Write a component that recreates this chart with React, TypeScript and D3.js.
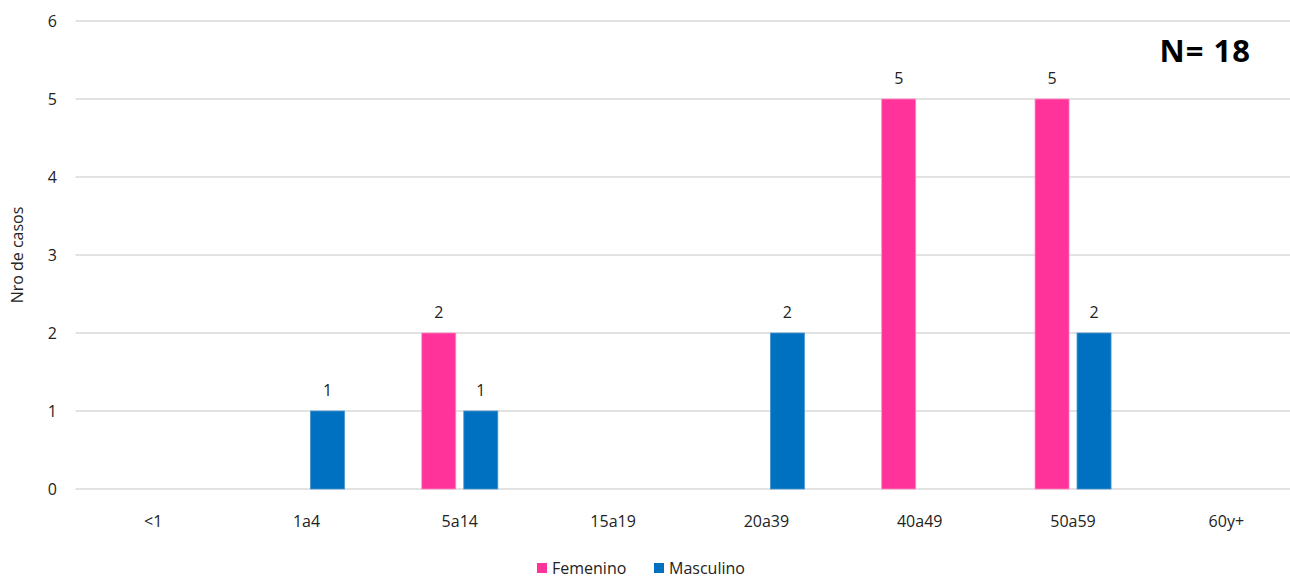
import { useEffect, useRef } from "react";
import * as d3 from "d3";

const categories = ["<1", "1a4", "5a14", "15a19", "20a39", "40a49", "50a59", "60y+"];
const femenino = [0, 0, 2, 0, 0, 5, 5, 0];
const masculino = [0, 1, 1, 0, 2, 0, 2, 0];
const seriesNames = ["Femenino", "Masculino"];
const colors = ["#FF3399", "#0070C0"];
const yTicks = [0, 1, 2, 3, 4, 5, 6];

const W = 1290,
  H = 578;
const margin = { top: 21, left: 76.5, bottom: 89 };
const plotRight = 1303;
const font = "'Open Sans', 'Noto Sans', sans-serif";

function App() {
  const svgRef = useRef(null);

  const buildSVG = () => {
    const svg = d3.select(svgRef.current);
    svg.selectAll("*").remove();

    const x = d3.scaleBand().domain(categories).range([margin.left, plotRight]);
    const x1 = d3
      .scaleBand()
      .domain(seriesNames)
      .range([0, x.bandwidth()])
      .paddingInner(0.19)
      .paddingOuter(0.92);
    const y = d3.scaleLinear().domain([0, 6]).range([H - margin.bottom, margin.top]);

    // gridlines
    svg
      .append("g")
      .selectAll("line")
      .data(yTicks)
      .enter()
      .append("line")
      .attr("x1", margin.left - 1)
      .attr("x2", W)
      .attr("y1", (d) => y(d))
      .attr("y2", (d) => y(d))
      .attr("stroke", "#d9d9d9")
      .attr("stroke-width", 1.3);

    // y tick labels
    svg
      .append("g")
      .selectAll("text")
      .data(yTicks)
      .enter()
      .append("text")
      .attr("x", 57)
      .attr("y", (d) => y(d))
      .attr("dy", "0.35em")
      .attr("text-anchor", "end")
      .attr("font-family", font)
      .attr("font-size", 16)
      .attr("fill", "#222")
      .text((d) => d);

    // y axis title
    svg
      .append("text")
      .attr("transform", `translate(23,${(y(0) + y(6)) / 2}) rotate(-90)`)
      .attr("text-anchor", "middle")
      .attr("font-family", font)
      .attr("font-size", 16)
      .attr("fill", "#222")
      .text("Nro de casos");

    // x labels
    svg
      .append("g")
      .selectAll("text")
      .data(categories)
      .enter()
      .append("text")
      .attr("x", (d) => (x(d) as number) + x.bandwidth() / 2)
      .attr("y", 527)
      .attr("text-anchor", "middle")
      .attr("font-family", font)
      .attr("font-size", 16)
      .attr("fill", "#222")
      .text((d) => d);

    const data = [femenino, masculino];
    data.forEach((vals, si) => {
      const g = svg.append("g");
      const rows = categories
        .map((c, i) => ({ c, v: vals[i] }))
        .filter((d) => d.v > 0);
      g.selectAll("rect")
        .data(rows)
        .enter()
        .append("rect")
        .attr("x", (d) => (x(d.c) as number) + (x1(seriesNames[si]) as number))
        .attr("y", (d) => y(d.v))
        .attr("width", x1.bandwidth())
        .attr("height", (d) => y(0) - y(d.v))
        .attr("fill", colors[si])
        .attr("stroke", si === 0 ? "#ff8cc6" : "#4a95d0")
        .attr("stroke-width", 0.8);
      g.selectAll("text")
        .data(rows)
        .enter()
        .append("text")
        .attr("x", (d) => (x(d.c) as number) + (x1(seriesNames[si]) as number) + x1.bandwidth() / 2)
        .attr("y", (d) => y(d.v) - 15)
        .attr("text-anchor", "middle")
        .attr("font-family", font)
        .attr("font-size", 16)
        .attr("fill", "#222")
        .text((d) => d.v);
    });

    // N label
    svg
      .append("text")
      .attr("x", 1251)
      .attr("y", 62)
      .attr("text-anchor", "end")
      .attr("font-family", font)
      .attr("font-weight", "bold")
      .attr("font-size", 31)
      .attr("letter-spacing", 1)
      .attr("fill", "#000")
      .text("N= 18");

    // legend
    const legendX = [537, 654];
    const lg = svg
      .append("g")
      .selectAll("g")
      .data(seriesNames)
      .enter()
      .append("g")
      .attr("transform", (d, i) => `translate(${legendX[i]},562)`);
    lg.append("rect")
      .attr("y", 1)
      .attr("width", 10)
      .attr("height", 10)
      .attr("fill", (d, i) => colors[i]);
    lg.append("text")
      .attr("x", 15)
      .attr("y", 6)
      .attr("dy", "0.35em")
      .attr("font-family", font)
      .attr("font-size", 16)
      .attr("fill", "#222")
      .text((d) => d);
  };

  useEffect(buildSVG, []);

  return (
    <div style={{ position: "absolute", left: 0, top: 0 }}>
      <svg ref={svgRef} width={W} height={H} style={{ display: "block" }}></svg>
    </div>
  );
}

export default App;
